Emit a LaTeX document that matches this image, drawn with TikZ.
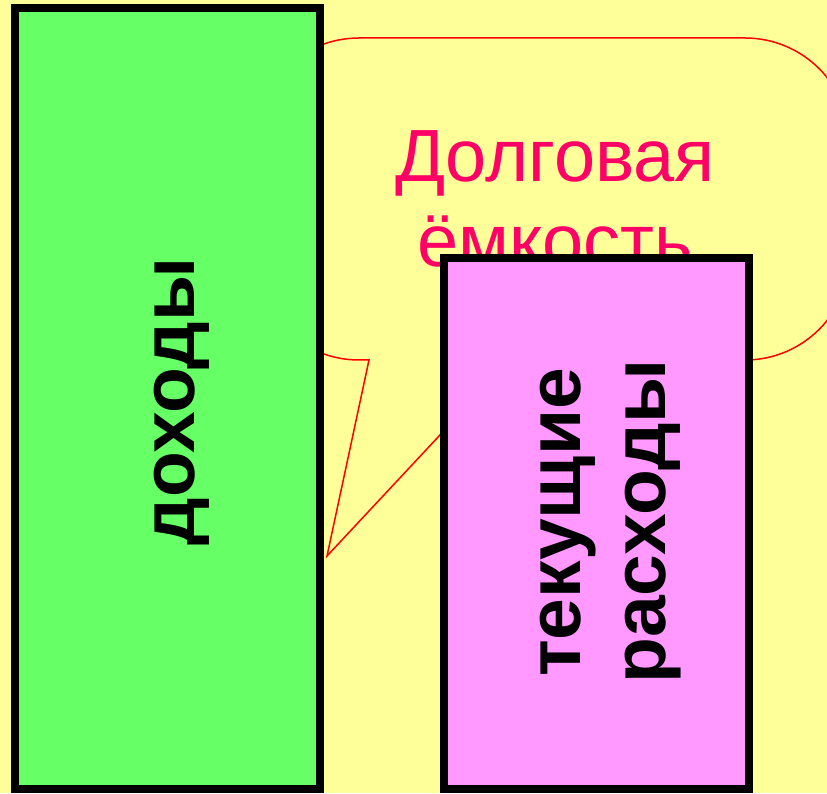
\documentclass[tikz,border=0pt]{standalone}
\usepackage{fontspec}
\setmainfont{Liberation Sans}
\definecolor{bgyellow}{HTML}{FFFF99}
\definecolor{boxgreen}{HTML}{66FF66}
\definecolor{boxpink}{HTML}{FF99FF}
\definecolor{txtmag}{HTML}{FF0066}
\definecolor{callred}{HTML}{FF0000}
\tikzset{
  bar/.style={draw=black, line width=8pt},
  bigbold/.style={font=\fontsize{75}{90}\selectfont\bfseries, text=black, inner sep=0pt, rotate=90, anchor=base},
  magtext/.style={font=\fontsize{74}{88}\selectfont, text=txtmag, inner sep=0pt, anchor=base},
  callout/.style={draw=callred, line width=1.5pt, fill=bgyellow}
}
\begin{document}
\begin{tikzpicture}[x=1pt,y=1pt]
\fill[bgyellow] (0,0) rectangle (827,793);
\useasboundingbox (0,0) rectangle (827,793);
% callout bubble
\draw[callout] (369,433) -- (327,237) -- (510,433) -- (745,433)
  arc[start angle=-90,end angle=0,radius=105] -- (850,650)
  arc[start angle=0,end angle=90,radius=105] -- (359,755)
  arc[start angle=90,end angle=180,radius=105] -- (254,538)
  arc[start angle=180,end angle=270,radius=105] -- cycle;
\node[magtext] (t1) at (555,611) {Долговая};
\node[magtext] (t2) at (555,526) {ёмкость};
% income bar
\filldraw[bar, fill=boxgreen] (15,4) rectangle (320,785);
\node[bigbold] (inc) at (194,391.5) {доходы};
% expenses bar
\filldraw[bar, fill=boxpink] (444,4) rectangle (749,534.5);
\node[bigbold] (exp1) at (580,270.5) {текущие};
\node[bigbold] (exp2) at (665,271.5) {расходы};
\end{tikzpicture}
\end{document}
